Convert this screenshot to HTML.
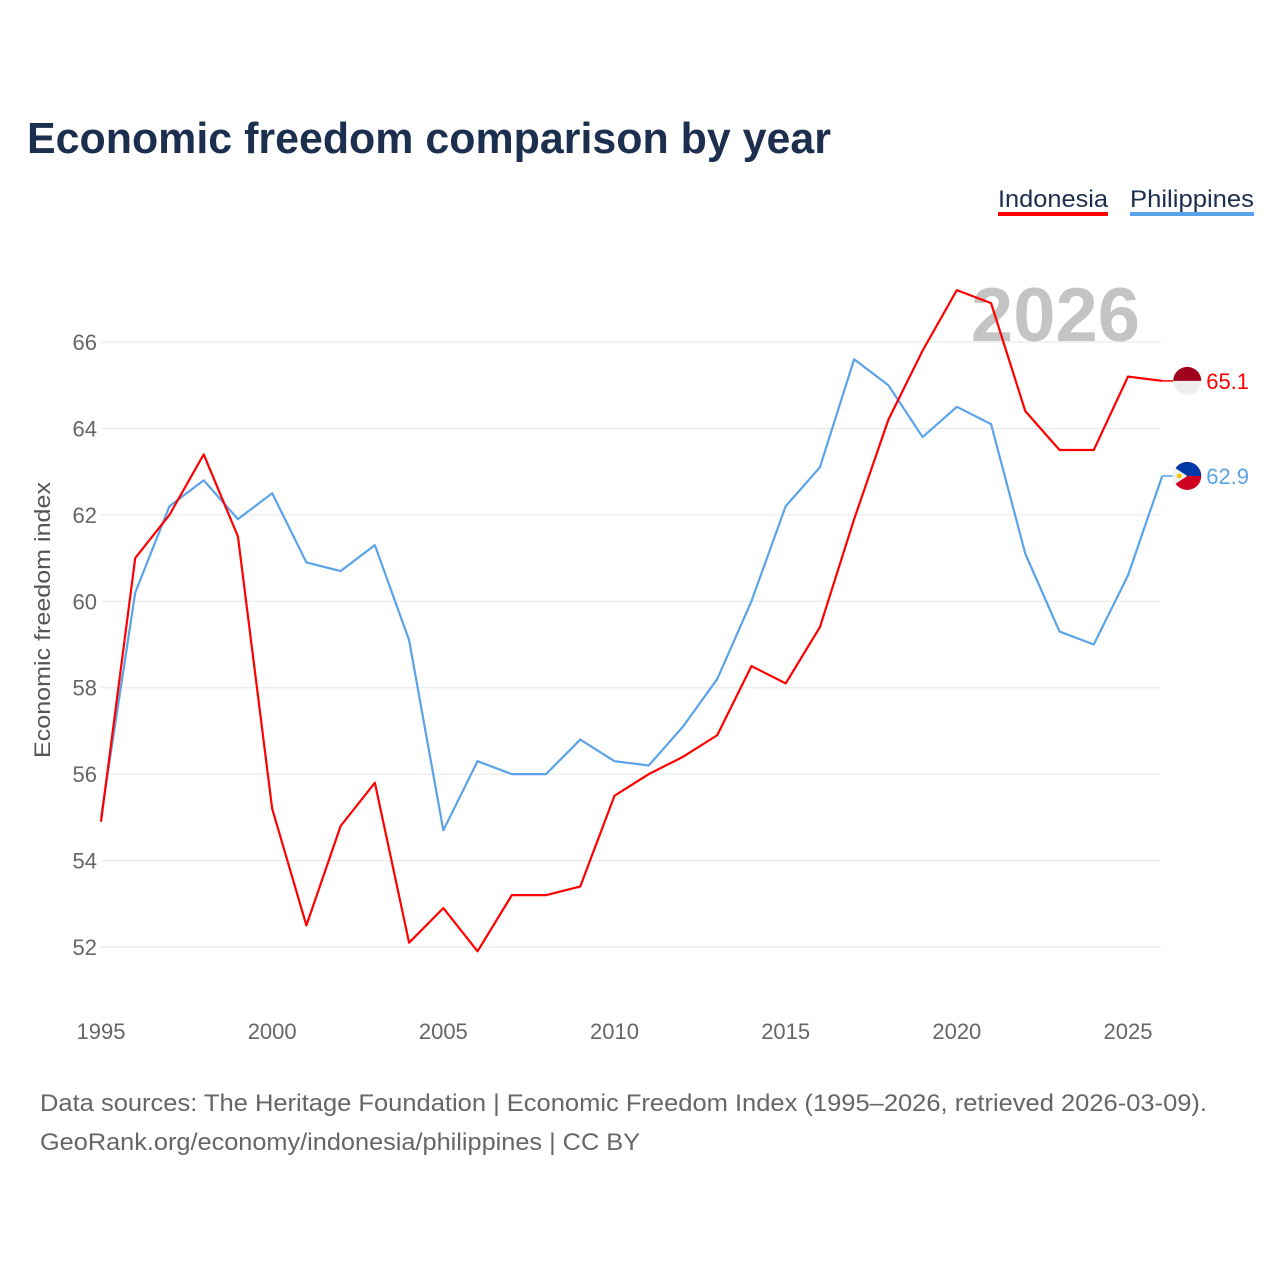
<!DOCTYPE html>
<html><head><meta charset="utf-8"><style>
body{margin:0;background:#fff;font-family:"Liberation Sans",sans-serif}
svg text{font-family:"Liberation Sans",sans-serif}
</style></head><body>
<svg id="c" width="1280" height="1280" viewBox="0 0 1280 1280">
<text x="27" y="153" font-size="44" font-weight="bold" fill="#1c2f4f" textLength="804" lengthAdjust="spacingAndGlyphs">Economic freedom comparison by year</text>
<g>
<text x="998" y="207" font-size="24" fill="#1c2f4f" textLength="110" lengthAdjust="spacingAndGlyphs">Indonesia</text>
<rect x="998" y="212" width="110" height="4" fill="#ff0000"/>
<text x="1130" y="207" font-size="24" fill="#1c2f4f" textLength="124" lengthAdjust="spacingAndGlyphs">Philippines</text>
<rect x="1130" y="212" width="124" height="4" fill="#5ba3e8"/>
</g>
<text x="1140" y="341" font-size="76" font-weight="bold" fill="#c4c4c4" text-anchor="end">2026</text>
<g id="grid"></g><g id="yt"></g><g id="xt"></g><g id="lines"></g><g id="ends"></g>
<text transform="translate(50,620) rotate(-90)" font-size="22" fill="#555" text-anchor="middle" textLength="276" lengthAdjust="spacingAndGlyphs">Economic freedom index</text>
<text x="40" y="1111" font-size="24" fill="#666" textLength="1167" lengthAdjust="spacingAndGlyphs">Data sources: The Heritage Foundation | Economic Freedom Index (1995–2026, retrieved 2026-03-09).</text>
<text x="40" y="1150" font-size="24" fill="#666" textLength="600" lengthAdjust="spacingAndGlyphs">GeoRank.org/economy/indonesia/philippines | CC BY</text>
</svg>
<script>
const years=[];for(let y=1995;y<=2026;y++)years.push(y);
const indonesia=[54.9,61.0,62.0,63.4,61.5,55.2,52.5,54.8,55.8,52.1,52.9,51.9,53.2,53.2,53.4,55.5,56.0,56.4,56.9,58.5,58.1,59.4,61.9,64.2,65.8,67.2,66.9,64.4,63.5,63.5,65.2,65.1];
const philippines=[55.0,60.2,62.2,62.8,61.9,62.5,60.9,60.7,61.3,59.1,54.7,56.3,56.0,56.0,56.8,56.3,56.2,57.1,58.2,60.0,62.2,63.1,65.6,65.0,63.8,64.5,64.1,61.1,59.3,59.0,60.6,62.9];
const yTicks=[52,54,56,58,60,62,64,66];
const xTicks=[1995,2000,2005,2010,2015,2020,2025];
const NS='http://www.w3.org/2000/svg';
const X=v=>101+(v-1995)*(1128-101)/30;
const Y=v=>342+(66-v)*(947-342)/14;
function mk(t,a,p){const e=document.createElementNS(NS,t);for(const k in a)e.setAttribute(k,a[k]);document.getElementById(p).appendChild(e);return e;}
yTicks.forEach(v=>{
 const l=mk('line',{x1:101,x2:1161,y1:Y(v),y2:Y(v),stroke:'#e6e6e6','stroke-width':1},'grid');
 
 
 const t=mk('text',{x:97,y:Y(v)+8,'font-size':22,fill:'#666','text-anchor':'end'},'yt');t.textContent=v;
 
 
});
xTicks.forEach(v=>{
 const t=mk('text',{x:X(v),y:1039,'font-size':22,fill:'#666','text-anchor':'middle'},'xt');t.textContent=v;
 
 
});
function line(d,c,n){
 const p=mk('polyline',{points:d.map((v,i)=>X(years[i])+','+Y(v)).join(' '),fill:'none',stroke:c,'stroke-width':2.2,'stroke-linejoin':'round'},'lines');
 
 
 const last=d[d.length-1],lx=X(years[years.length-1]),ly=Y(last);
 const cx=lx+25;
 const ll=mk('line',{x1:lx,x2:cx-14,y1:ly,y2:ly,stroke:c,'stroke-width':1.5},'ends');
 
 
 const g=mk('g',{},'ends');
 
 
 if(n==='indonesia'){
  g.innerHTML=`<circle cx="${cx}" cy="${ly}" r="14" fill="#eee"/><path d="M${cx-14},${ly} A14,14 0 0 1 ${cx+14},${ly} Z" fill="#a0001e"/>`;
 }else{
  g.innerHTML=`<circle cx="${cx}" cy="${ly}" r="14" fill="#d00020"/><path d="M${cx-14},${ly} A14,14 0 0 1 ${cx+14},${ly} Z" fill="#0038a8"/><path d="M${cx-12},${ly-8} L${cx},${ly} L${cx-12},${ly+8} A14,14 0 0 1 ${cx-12},${ly-8} Z" fill="#f3f3f3"/><circle cx="${cx-8}" cy="${ly}" r="2.5" fill="#f5c400"/>`;
 }
 const t=mk('text',{x:cx+19,y:ly+8,'font-size':22,fill:c},'ends');t.textContent=last.toFixed(1);
 
 
}
line(philippines,'#5ba3e8','philippines');
line(indonesia,'#ff0000','indonesia');
</script>
</body></html>
